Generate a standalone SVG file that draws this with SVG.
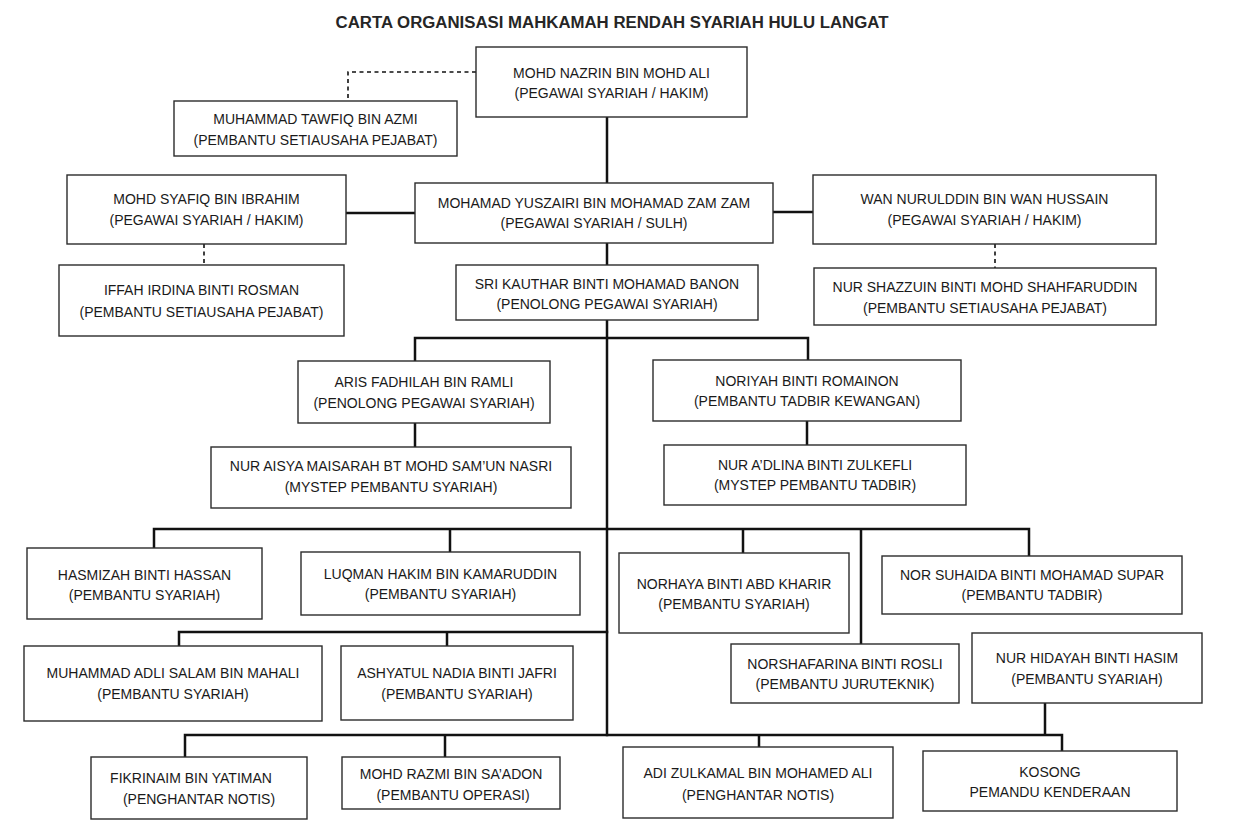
<svg xmlns="http://www.w3.org/2000/svg" width="1240" height="835" viewBox="0 0 1240 835">
<style>
.bg{fill:#ffffff}
.box rect{fill:#ffffff;stroke:#2b2b2b;stroke-width:1.4}
.box text{font-family:"Liberation Sans",Arial,sans-serif;font-size:14px;fill:#1a1a1a;text-anchor:middle}
.title{font-family:"Liberation Sans",Arial,sans-serif;font-size:16.8px;font-weight:bold;fill:#262626;text-anchor:middle}
.ln{stroke:#111;stroke-width:2.5;fill:none;stroke-linecap:square}
.dash{stroke:#111;stroke-width:1.6;fill:none;stroke-dasharray:4 3.5}
</style>
<rect class="bg" x="0" y="0" width="1240" height="835"/>
<text class="title" x="612" y="28">CARTA ORGANISASI MAHKAMAH RENDAH SYARIAH HULU LANGAT</text>

<g id="connectors">
  <path class="ln" d="M607 117V183 M607 243V265 M607 320V735"/>
  <path class="ln" d="M346 213H415 M773 212H813"/>
  <path class="dash" d="M476 72H348V101"/>
  <path class="dash" d="M204 244V265"/>
  <path class="dash" d="M995 244V268"/>
  <path class="ln" d="M415 361V338H808V360"/>
  <path class="ln" d="M415 423V447 M807 421V445"/>
  <path class="ln" d="M154 548V529H1029V556 M450 529V552 M743 529V553 M861 529V644"/>
  <path class="ln" d="M179 646V632H607 M447 632V646"/>
  <path class="ln" d="M185 757V735H1062V751 M445 735V757 M759 735V747 M1045 703V735"/>
</g>

<g id="nazrin" class="box"><rect x="476" y="47" width="271" height="70"/><text x="611.5" y="78">MOHD NAZRIN BIN MOHD ALI</text><text x="611.5" y="98">(PEGAWAI SYARIAH / HAKIM)</text></g>
<g id="tawfiq" class="box"><rect x="174" y="101" width="283" height="55"/><text x="315.5" y="124">MUHAMMAD TAWFIQ BIN AZMI</text><text x="315.5" y="145">(PEMBANTU SETIAUSAHA PEJABAT)</text></g>
<g id="syafiq" class="box"><rect x="67" y="175" width="279" height="69"/><text x="206.5" y="204">MOHD SYAFIQ BIN IBRAHIM</text><text x="206.5" y="225">(PEGAWAI SYARIAH / HAKIM)</text></g>
<g id="yuszairi" class="box"><rect x="415" y="183" width="358" height="60"/><text x="594" y="208">MOHAMAD YUSZAIRI BIN MOHAMAD ZAM ZAM</text><text x="594" y="228">(PEGAWAI SYARIAH / SULH)</text></g>
<g id="wan" class="box"><rect x="813" y="175" width="343" height="69"/><text x="984.5" y="204">WAN NURULDDIN BIN WAN HUSSAIN</text><text x="984.5" y="225">(PEGAWAI SYARIAH / HAKIM)</text></g>
<g id="iffah" class="box"><rect x="59" y="265" width="285" height="71"/><text x="201.5" y="295">IFFAH IRDINA BINTI ROSMAN</text><text x="201.5" y="317">(PEMBANTU SETIAUSAHA PEJABAT)</text></g>
<g id="shazzuin" class="box"><rect x="814" y="268" width="342" height="57"/><text x="985" y="292">NUR SHAZZUIN BINTI MOHD SHAHFARUDDIN</text><text x="985" y="313">(PEMBANTU SETIAUSAHA PEJABAT)</text></g>
<g id="kauthar" class="box"><rect x="456" y="265" width="302" height="55"/><text x="607" y="289">SRI KAUTHAR BINTI MOHAMAD BANON</text><text x="607" y="309">(PENOLONG PEGAWAI SYARIAH)</text></g>
<g id="aris" class="box"><rect x="298" y="361" width="252" height="62"/><text x="424" y="387">ARIS FADHILAH BIN RAMLI</text><text x="424" y="408">(PENOLONG PEGAWAI SYARIAH)</text></g>
<g id="aisya" class="box"><rect x="211" y="447" width="360" height="61"/><text x="391" y="471">NUR AISYA MAISARAH BT MOHD SAM’UN NASRI</text><text x="391" y="492">(MYSTEP PEMBANTU SYARIAH)</text></g>
<g id="noriyah" class="box"><rect x="653" y="360" width="308" height="61"/><text x="807" y="386">NORIYAH BINTI ROMAINON</text><text x="807" y="406">(PEMBANTU TADBIR KEWANGAN)</text></g>
<g id="adlina" class="box"><rect x="664" y="445" width="302" height="60"/><text x="815" y="470">NUR A’DLINA BINTI ZULKEFLI</text><text x="815" y="490">(MYSTEP PEMBANTU TADBIR)</text></g>
<g id="hasmizah" class="box"><rect x="27" y="548" width="235" height="71"/><text x="144.5" y="580">HASMIZAH BINTI HASSAN</text><text x="144.5" y="600">(PEMBANTU SYARIAH)</text></g>
<g id="luqman" class="box"><rect x="301" y="552" width="279" height="63"/><text x="440.5" y="579">LUQMAN HAKIM BIN KAMARUDDIN</text><text x="440.5" y="599">(PEMBANTU SYARIAH)</text></g>
<g id="norhaya" class="box"><rect x="619" y="553" width="230" height="80"/><text x="734" y="589">NORHAYA BINTI ABD KHARIR</text><text x="734" y="609">(PEMBANTU SYARIAH)</text></g>
<g id="suhaida" class="box"><rect x="882" y="556" width="300" height="58"/><text x="1032" y="580">NOR SUHAIDA BINTI MOHAMAD SUPAR</text><text x="1032" y="600">(PEMBANTU TADBIR)</text></g>
<g id="adli" class="box"><rect x="24" y="646" width="298" height="75"/><text x="173" y="678">MUHAMMAD ADLI SALAM BIN MAHALI</text><text x="173" y="699">(PEMBANTU SYARIAH)</text></g>
<g id="ashyatul" class="box"><rect x="341" y="646" width="232" height="74"/><text x="457" y="678">ASHYATUL NADIA BINTI JAFRI</text><text x="457" y="699">(PEMBANTU SYARIAH)</text></g>
<g id="norshafarina" class="box"><rect x="731" y="644" width="228" height="59"/><text x="845" y="669">NORSHAFARINA BINTI ROSLI</text><text x="845" y="689">(PEMBANTU JURUTEKNIK)</text></g>
<g id="hidayah" class="box"><rect x="972" y="633" width="230" height="70"/><text x="1087" y="663">NUR HIDAYAH BINTI HASIM</text><text x="1087" y="684">(PEMBANTU SYARIAH)</text></g>
<g id="fikrinaim" class="box"><rect x="91" y="757" width="216" height="62"/><text x="191" y="783">FIKRINAIM BIN YATIMAN</text><text x="199" y="804">(PENGHANTAR NOTIS)</text></g>
<g id="razmi" class="box"><rect x="342" y="757" width="218" height="52"/><text x="451" y="779">MOHD RAZMI BIN SA’ADON</text><text x="453" y="800">(PEMBANTU OPERASI)</text></g>
<g id="adi" class="box"><rect x="623" y="747" width="270" height="71"/><text x="758" y="778">ADI ZULKAMAL BIN MOHAMED ALI</text><text x="758" y="800">(PENGHANTAR NOTIS)</text></g>
<g id="kosong" class="box"><rect x="923" y="751" width="254" height="60"/><text x="1050" y="777">KOSONG</text><text x="1050" y="797">PEMANDU KENDERAAN</text></g>
</svg>
